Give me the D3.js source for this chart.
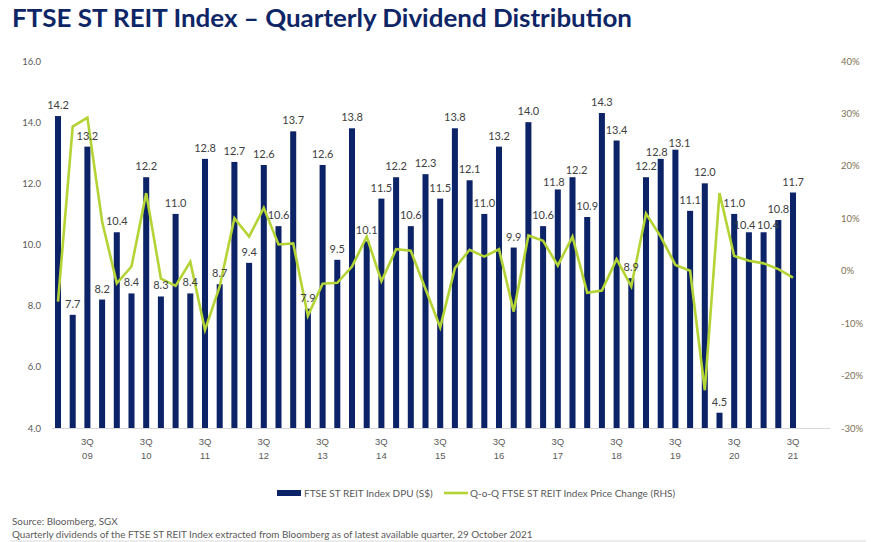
<!DOCTYPE html>
<html lang="en">

<head>
    <meta charset="UTF-8">
    <title>FTSE ST REIT Index - Quarterly Dividend Distribution</title>
    <script src="https://cdn.jsdelivr.net/npm/d3@7"></script>
    <style>
        body { margin: 0; background: #fff; }
        svg { font-family: Lato, "Open Sans", sans-serif; }
    </style>
</head>

<body>
    <svg id="chart" width="871" height="542"></svg>

    <script>
        const quarters = [
            "1Q09", "2Q09", "3Q09", "4Q09", "1Q10", "2Q10", "3Q10", "4Q10",
            "1Q11", "2Q11", "3Q11", "4Q11", "1Q12", "2Q12", "3Q12", "4Q12",
            "1Q13", "2Q13", "3Q13", "4Q13", "1Q14", "2Q14", "3Q14", "4Q14",
            "1Q15", "2Q15", "3Q15", "4Q15", "1Q16", "2Q16", "3Q16", "4Q16",
            "1Q17", "2Q17", "3Q17", "4Q17", "1Q18", "2Q18", "3Q18", "4Q18",
            "1Q19", "2Q19", "3Q19", "4Q19", "1Q20", "2Q20", "3Q20", "4Q20",
            "1Q21", "2Q21", "3Q21"
        ]

        // DPU (S$ cents) per quarter
        const dpu = [
            14.2, 7.7, 13.2, 8.2, 10.4, 8.4, 12.2, 8.3,
            11.0, 8.4, 12.8, 8.7, 12.7, 9.4, 12.6, 10.6,
            13.7, 7.9, 12.6, 9.5, 13.8, 10.1, 11.5, 12.2,
            10.6, 12.3, 11.5, 13.8, 12.1, 11.0, 13.2, 9.9,
            14.0, 10.6, 11.8, 12.2, 10.9, 14.3, 13.4, 8.9,
            12.2, 12.8, 13.1, 11.1, 12.0, 4.5, 11.0, 10.4,
            10.4, 10.8, 11.7
        ]

        // q-o-q price change, %
        const priceChange = [
            -5.9, 27.5, 29.2, 9.4, -2.4, 0.8, 14.8, -1.5,
            -2.9, 1.7, -11.3, -3.0, 10.0, 6.5, 12.0, 5.0,
            5.2, -8.6, -2.5, -2.3, 0.8, 6.5, -2.0, 4.1,
            3.8, -3.5, -10.8, 0.5, 4.0, 2.7, 4.1, -7.8,
            6.7, 5.7, 1.0, 6.5, -4.2, -3.8, 2.2, -3.0,
            10.9, 6.5, 1.1, 0.0, -22.8, 14.8, 2.8, 1.9,
            1.4, 0.3, -1.3
        ]

        const leftTicks = [4, 6, 8, 10, 12, 14, 16]
        const rightTicks = [-30, -20, -10, 0, 10, 20, 30, 40]
        const legendLabels = ["FTSE ST REIT Index DPU (S$)", "Q-o-Q FTSE ST REIT Index Price Change (RHS)"]

        const navy = "#0c2367"
        const green = "#b4d334"
        const grey = "#595959"

        const svg = d3.select("#chart")

        // title
        svg.append("text")
            .attr("x", 12).attr("y", 27)
            .attr("fill", "#0e2566")
            .style("font-size", "24.5px")
            .style("font-weight", 700)
            .attr("textLength", 620)
            .attr("lengthAdjust", "spacingAndGlyphs")
            .text("FTSE ST REIT Index \u2013 Quarterly Dividend Distribution")

        const plot = { left: 52, right: 830, top: 61, bottom: 428 }

        const x = d3.scaleBand()
            .domain(quarters)
            .range([50.65, 800.35])
            .paddingInner(0.59)
            .paddingOuter(0.295)

        const yL = d3.scaleLinear().domain([4, 16]).range([plot.bottom, plot.top])
        const yR = d3.scaleLinear().domain([-30, 40]).range([plot.bottom, plot.top])

        // left axis
        const gl = svg.append("g")
            .attr("transform", `translate(${plot.left - 11},0)`)
            .call(d3.axisLeft(yL).tickValues(leftTicks).tickSize(0).tickPadding(0).tickFormat(d3.format(".1f")))
        gl.select(".domain").remove()
        gl.selectAll("text").attr("fill", grey).style("font-size", "9.5px").style("font-family", "Lato")

        // right axis
        const gr = svg.append("g")
            .attr("transform", `translate(841,0)`)
            .call(d3.axisRight(yR).tickValues(rightTicks).tickSize(0).tickPadding(0).tickFormat(d => d + "%"))
        gr.select(".domain").remove()
        gr.selectAll("text").attr("fill", "#7e6f55").style("font-size", "9.5px").style("font-family", "Lato")

        // bars
        svg.append("g")
            .selectAll("rect")
            .data(quarters)
            .join("rect")
            .attr("x", (d, i) => x(d))
            .attr("y", (d, i) => yL(dpu[i]))
            .attr("width", x.bandwidth())
            .attr("height", (d, i) => yL(4) - yL(dpu[i]))
            .attr("fill", navy)

        // baseline
        svg.append("line")
            .attr("x1", plot.left).attr("x2", plot.right)
            .attr("y1", plot.bottom + 0.5).attr("y2", plot.bottom + 0.5)
            .attr("stroke", "#d9d9d9")

        // bottom axis: only 3Q labels shown
        const gx = svg.append("g")
            .attr("transform", `translate(0,${plot.bottom})`)
            .call(d3.axisBottom(x).tickValues(quarters.filter(q => q.startsWith("3Q"))).tickSize(0).tickPadding(0).tickFormat(""))
        gx.select(".domain").remove()
        gx.selectAll(".tick text").remove()
        gx.selectAll(".tick").each(function (q) {
            const t = d3.select(this).append("text")
                .attr("fill", grey)
                .attr("text-anchor", "middle")
                .style("font-size", "9.5px")
            t.append("tspan").attr("x", 0).attr("y", 16.5).text(q.slice(0, 2))
            t.append("tspan").attr("x", 0).attr("y", 30.5).text(q.slice(2))
        })

        // price change line
        const line = d3.line()
            .x((d, i) => x(quarters[i]) + x.bandwidth() / 2)
            .y(d => yR(d))

        svg.append("path")
            .datum(priceChange)
            .attr("fill", "none")
            .attr("stroke", green)
            .attr("stroke-width", 2.6)
            .attr("stroke-linejoin", "miter")
            .attr("d", line)

        // data labels
        const labels = svg.append("g")
            .selectAll("text")
            .data(quarters)
            .join("text")
            .attr("x", d => x(d) + x.bandwidth() / 2)
            .attr("y", (d, i) => yL(dpu[i]) - 7)
            .attr("text-anchor", "middle")
            .attr("fill", "#404040")
            .style("font-size", "11px")
            .text((d, i) => d3.format(".1f")(dpu[i]))

        // neighbouring labels at the same height collide: spread them apart and drop them a little
        const nodes = labels.nodes()
        const hits = (a, b) => a.x < b.x + b.width && b.x < a.x + a.width && a.y < b.y + b.height && b.y < a.y + a.height
        for (let i = 1; i < nodes.length; i++) {
            const a = nodes[i - 1].getBBox(), b = nodes[i].getBBox()
            if (hits(a, b)) {
                const dx = (a.x + a.width - b.x) / 2 + 0.5
                const pa = d3.select(nodes[i - 1]), pb = d3.select(nodes[i])
                pa.attr("x", +pa.attr("x") - dx).attr("y", +pa.attr("y") + 4)
                pb.attr("x", +pb.attr("x") + dx).attr("y", +pb.attr("y") + 4)
            }
        }

        // legend
        const lg = svg.append("g").style("font-size", "10px").attr("fill", grey)
        lg.append("rect").attr("x", 277).attr("y", 490).attr("width", 24).attr("height", 6).attr("fill", navy)
        lg.append("text").attr("x", 304).attr("y", 496.5).text(legendLabels[0])
        lg.append("line").attr("x1", 444).attr("x2", 468).attr("y1", 493).attr("y2", 493)
            .attr("stroke", green).attr("stroke-width", 2.6)
        lg.append("text").attr("x", 470).attr("y", 496.5).text(legendLabels[1])

        // footnotes
        const fn = svg.append("g").style("font-size", "9.9px").attr("fill", grey)
        fn.append("text").attr("x", 12).attr("y", 524.5).text("Source: Bloomberg, SGX")
        fn.append("text").attr("x", 12).attr("y", 537.5)
            .text("Quarterly dividends of the FTSE ST REIT Index extracted from Bloomberg as of latest available quarter, 29 October 2021")
        svg.append("line")
            .attr("x1", 10).attr("x2", 866).attr("y1", 541).attr("y2", 541)
            .attr("stroke", "#d9d9d9")
    </script>
</body>

</html>
